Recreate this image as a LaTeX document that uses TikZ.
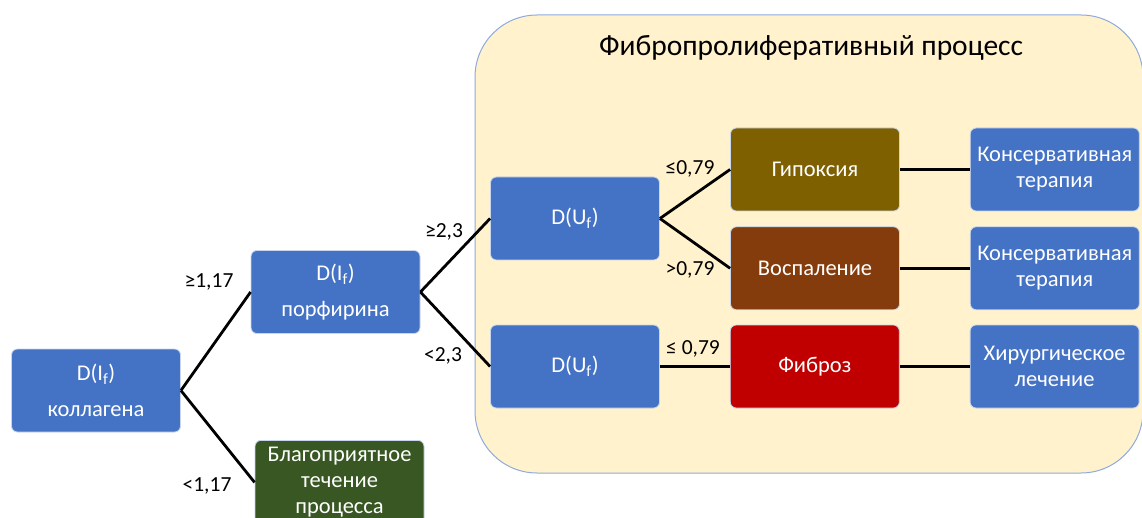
\documentclass[tikz,border=0pt]{standalone}
\usepackage{fontspec}
\setmainfont{Carlito}
\usetikzlibrary{positioning}
\definecolor{boxblue}{RGB}{68,114,196}
\definecolor{hypolive}{RGB}{127,96,0}
\definecolor{inflbrown}{RGB}{132,60,12}
\definecolor{fibred}{RGB}{192,0,0}
\definecolor{goodgreen}{RGB}{56,87,35}
\definecolor{procfill}{RGB}{255,242,204}
\definecolor{procline}{RGB}{143,170,220}

\begin{document}
\begin{tikzpicture}[
    x=1pt, y=-1pt,
    node distance=70pt,
    block/.style={rectangle, draw=white!70!boxblue, fill=boxblue, line width=0.8pt,
      rounded corners=6pt, minimum width=169pt, minimum height=83pt, inner sep=1pt,
      align=center, text=white, font=\fontsize{22.5}{26}\selectfont},
    cond/.style={inner sep=0pt, font=\fontsize{21.5}{24}\selectfont},
    link/.style={line width=2.8pt, draw=black}
  ]
    \useasboundingbox (0,0) rectangle (1142,518);

    \node[draw=procline, fill=procfill, line width=1pt, rounded corners=62pt,
      minimum width=668pt, minimum height=458pt] (proc) at (809,244) {};
    \node[font=\fontsize{29.5}{32}\selectfont] (title) at (811,48) {Фибропролиферативный процесс};

    \node[block] (coll)  at (96,390.5)  {D(I\textsubscript{f})\\[10pt]коллагена};
    \node[block] (porph) at (335.5,292) {D(I\textsubscript{f})\\[10pt]порфирина};
    \node[block, fill=goodgreen, anchor=north, minimum height=84pt] (good) at (339.5,440)
      {Благоприятное\\течение\\процесса};
    \node[block] (uup)  at (575,218.5) {D(U\textsubscript{f})};
    \node[block] (ulow) at (575,366.5) {D(U\textsubscript{f})};
    \node[block, fill=hypolive]          (hyp)  at (815,169.5) {Гипоксия};
    \node[block, fill=inflbrown, below=15pt of hyp] (infl) {Воспаление};
    \node[block, fill=fibred, right=of ulow]        (fib)  {Фиброз};
    \node[block, right=of hyp]  (cons1) {Консервативная\\терапия};
    \node[block, right=of infl] (cons2) {Консервативная\\терапия};
    \node[block, right=of fib]  (surg)  {Хирургическое\\лечение};

    \draw[link] (coll.east)  -- (porph.west);
    \draw[link] (coll.east)  -- (good.west);
    \draw[link] (porph.east) -- (uup.west);
    \draw[link] (porph.east) -- (ulow.west);
    \draw[link] (uup.east)   -- (hyp.west);
    \draw[link] (uup.east)   -- (infl.west);
    \draw[link] (ulow.east)  -- (fib.west);
    \draw[link] (hyp.east)   -- (cons1.west);
    \draw[link] (infl.east)  -- (cons2.west);
    \draw[link] (fib.east)   -- (surg.west);

    \node[cond] (gecoll) at (209,282) {≥1,17};
    \node[cond] (ltcoll) at (207,486) {<1,17};
    \node[cond] (geporph) at (444,232) {≥2,3};
    \node[cond] (ltporph) at (443,356) {<2,3};
    \node[cond] (leup)  at (690,169) {≤0,79};
    \node[cond] (gtup)  at (690,270) {>0,79};
    \node[cond] (lelow) at (693,349) {≤ 0,79};
  \end{tikzpicture}
\end{document}
